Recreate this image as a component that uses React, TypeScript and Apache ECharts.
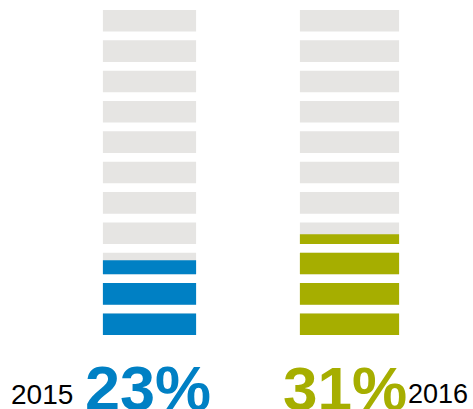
import React, { useEffect, useRef } from "react";
import * as echarts from "echarts";

const years = ["2015", "2016"];
const values = [23, 31];
const maxValue = 100;
const segmentCount = 11;
const colors = ["#0080C4", "#A6AE00"];
const trackColor = "#E6E5E3";

export default function App() {
  const ref = useRef<HTMLDivElement>(null);
  useEffect(() => {
    if (!ref.current) return;
    const chart = echarts.init(ref.current, null, { renderer: "svg" });
    const widths = [93, 99];
    const segH = 21.5;
    const family = "'Liberation Sans', Arial, sans-serif";
    chart.setOption({
      animation: false,
      backgroundColor: "#ffffff",
      grid: { left: 49.5, width: 400, top: 10, height: 325 },
      xAxis: { type: "category", data: years, show: false },
      yAxis: { type: "value", min: 0, max: maxValue, show: false },
      series: [
        {
          type: "pictorialBar",
          symbol: "rect",
          symbolRepeat: segmentCount,
          symbolBoundingData: maxValue,
          barGap: "-100%",
          silent: true,
          z: 1,
          data: years.map((_, i) => ({
            value: maxValue,
            symbolSize: [widths[i], segH],
            itemStyle: { color: trackColor },
          })),
        },
        {
          type: "pictorialBar",
          symbol: "rect",
          symbolRepeat: segmentCount,
          symbolBoundingData: maxValue,
          symbolClip: true,
          barGap: "-100%",
          silent: true,
          z: 2,
          data: values.map((v, i) => ({
            value: v,
            symbolSize: [widths[i], segH],
            itemStyle: { color: colors[i] },
          })),
        },
      ],
      graphic: [
        {
          type: "text",
          x: 11,
          y: 394,
          style: {
            text: years[0],
            font: `28px ${family}`,
            fill: "#000",
            align: "left",
            verticalAlign: "middle",
            lineHeight: 24,
          },
        },
        {
          type: "text",
          x: 85,
          y: 388,
          style: {
            text: `${values[0]}%`,
            font: `bold 63px ${family}`,
            fill: colors[0],
            align: "left",
            verticalAlign: "middle",
            lineHeight: 40,
          },
        },
        {
          type: "text",
          x: 283,
          y: 388,
          style: {
            text: `${values[1]}%`,
            font: `bold 62px ${family}`,
            fill: colors[1],
            align: "left",
            verticalAlign: "middle",
            lineHeight: 40,
          },
        },
        {
          type: "text",
          x: 408,
          y: 393.5,
          style: {
            text: years[1],
            font: `27px ${family}`,
            fill: "#000",
            align: "left",
            verticalAlign: "middle",
            lineHeight: 24,
          },
        },
      ],
    });
    return () => chart.dispose();
  }, []);
  return (
    <div
      ref={ref}
      style={{ position: "fixed", left: 0, top: 0, width: 473, height: 409 }}
    />
  );
}
